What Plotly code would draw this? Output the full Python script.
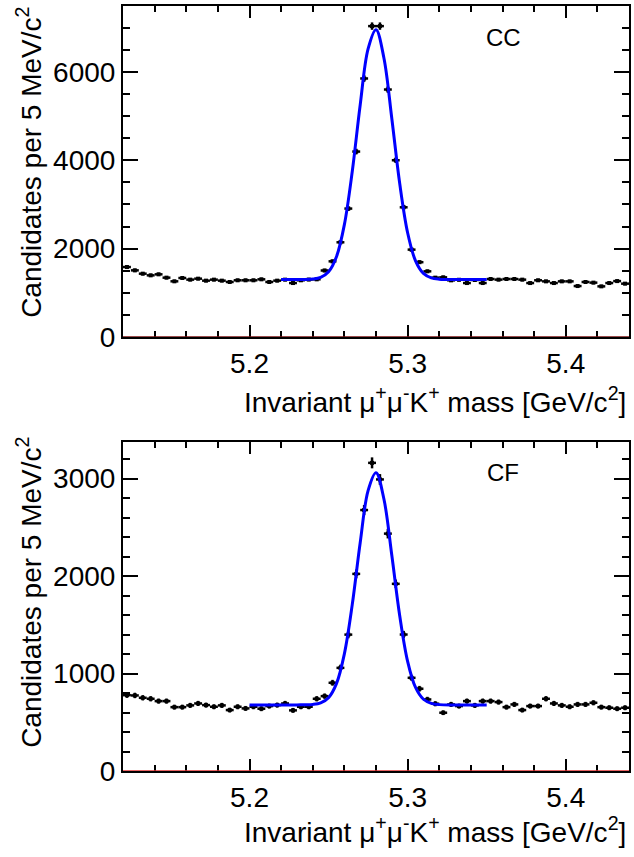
import numpy as np
import plotly.graph_objects as go

# ---------------- data ----------------
MASS = [5.1225, 5.1275, 5.1325, 5.1375, 5.1425, 5.1475, 5.1525, 5.1575,
        5.1625, 5.1675, 5.1725, 5.1775, 5.1825, 5.1875, 5.1925, 5.1975,
        5.2025, 5.2075, 5.2125, 5.2175, 5.2225, 5.2275, 5.2325, 5.2375,
        5.2425, 5.2475, 5.2525, 5.2575, 5.2625, 5.2675, 5.2725, 5.2775,
        5.2825, 5.2875, 5.2925, 5.2975, 5.3025, 5.3075, 5.3125, 5.3175,
        5.3225, 5.3275, 5.3325, 5.3375, 5.3425, 5.3475, 5.3525, 5.3575,
        5.3625, 5.3675, 5.3725, 5.3775, 5.3825, 5.3875, 5.3925, 5.3975,
        5.4025, 5.4075, 5.4125, 5.4175, 5.4225, 5.4275, 5.4325, 5.4375]
BIN_HALF_WIDTH = 0.0025

CC_COUNTS = [1583, 1508, 1433, 1395, 1418, 1343, 1260, 1335,
             1298, 1320, 1275, 1298, 1275, 1245, 1283, 1283,
             1283, 1305, 1245, 1275, 1298, 1221, 1283, 1300,
             1305, 1505, 1712, 2143, 2906, 4196, 5850, 7035,
             7035, 5600, 4000, 2935, 1977, 1693, 1486, 1343,
             1350, 1282, 1295, 1221, 1290, 1221, 1312, 1298,
             1312, 1312, 1298, 1221, 1283, 1259, 1221, 1259,
             1259, 1153, 1245, 1230, 1146, 1221, 1265, 1207]

CF_COUNTS = [778, 775, 751, 741, 717, 717, 655, 655,
             673, 693, 676, 659, 673, 625, 659, 642,
             659, 639, 666, 676, 693, 622, 659, 659,
             741, 768, 905, 1058, 1399, 2022, 2677, 3161,
             2991, 2435, 1920, 1400, 956, 844, 734, 690,
             598, 683, 666, 717, 673, 717, 717, 707,
             655, 683, 625, 666, 666, 741, 693, 673,
             659, 683, 683, 700, 655, 649, 639, 649]

FIT_X_CC = [5.22, 5.23, 5.24, 5.245, 5.25, 5.255, 5.26, 5.265, 5.27, 5.275,
            5.28, 5.285, 5.29, 5.295, 5.30, 5.305, 5.31, 5.315, 5.32, 5.33,
            5.34, 5.35]
FIT_Y_CC = [1300, 1300, 1311, 1349, 1476, 1817, 2543, 3749, 5251, 6519,
            6954, 6315, 4945, 3472, 2360, 1724, 1439, 1337, 1308, 1300,
            1300, 1300]

FIT_X_CF = [5.20, 5.22, 5.23, 5.24, 5.245, 5.25, 5.255, 5.26, 5.265, 5.27,
            5.275, 5.28, 5.285, 5.29, 5.295, 5.30, 5.305, 5.31, 5.315, 5.32,
            5.33, 5.34, 5.35]
FIT_Y_CF = [678, 678, 678, 683, 699, 752, 896, 1202, 1709, 2342,
            2876, 3060, 2790, 2213, 1593, 1125, 857, 736, 694, 681,
            678, 678, 678]

X_TICKS = [5.2, 5.3, 5.4]
X_TICK_TEXT = ["5.2", "5.3", "5.4"]
CC_Y_TICKS = [0, 2000, 4000, 6000]
CF_Y_TICKS = [0, 1000, 2000, 3000]
PANEL_LABELS = ["CC", "CF"]

X_TITLE = "Invariant \u03bc<sup>+</sup>\u03bc<sup>-</sup>K<sup>+</sup> mass [GeV/c<sup>2</sup>]"
Y_TITLE = "Candidates per 5 MeV/c<sup>2</sup>"

# ---------------- figure ----------------
FONT = "Liberation Sans, Arial, Helvetica, sans-serif"
W, H = 634, 857
ML, MR, MT, MB = 123, 3, 6, 86
PH = H - MT - MB

def py(px):  # pixel row -> paper y
    return (H - MB - px) / PH

def px_(x):  # pixel column -> paper x
    return (x - ML) / (W - ML - MR)

fig = go.Figure()

for counts, fx, fy, xa, ya in [(CC_COUNTS, FIT_X_CC, FIT_Y_CC, "x", "y"),
                               (CF_COUNTS, FIT_X_CF, FIT_Y_CF, "x2", "y2")]:
    fig.add_trace(go.Scatter(
        x=MASS, y=counts, mode="markers", xaxis=xa, yaxis=ya,
        marker=dict(symbol="square", size=4, color="black"),
        error_x=dict(type="constant", value=BIN_HALF_WIDTH, width=0,
                     thickness=2.5, color="black"),
        error_y=dict(type="data", array=list(np.sqrt(counts)), width=0,
                     thickness=2.5, color="black"),
        showlegend=False, hoverinfo="skip"))
    fig.add_trace(go.Scatter(
        x=fx, y=fy, mode="lines", xaxis=xa, yaxis=ya,
        line=dict(color="#0000ff", width=3, shape="spline"),
        showlegend=False, hoverinfo="skip"))

axis_common = dict(showgrid=False, zeroline=False, showline=True,
                   linecolor="black", linewidth=2, mirror="ticks",
                   ticks="inside", tickcolor="black", tickwidth=1.5,
                   tickfont=dict(family=FONT, size=28, color="black"))

xcommon = dict(axis_common, range=[5.12, 5.44], tickvals=X_TICKS,
               ticktext=X_TICK_TEXT, ticklen=12,
               minor=dict(dtick=0.02, tick0=5.2, ticklen=6, ticks="inside",
                          tickcolor="black", tickwidth=1.5))

top_dom = [py(337), py(6)]
bot_dom = [py(771), py(442)]

fig.update_layout(
    width=W, height=H,
    margin=dict(l=ML, r=MR, t=MT, b=MB, pad=0),
    paper_bgcolor="white", plot_bgcolor="white",
    font=dict(family=FONT, color="black"),
    xaxis=dict(xcommon, anchor="y", domain=[0, 1]),
    yaxis=dict(axis_common, anchor="x", domain=top_dom, range=[0, 7490],
               tickvals=CC_Y_TICKS, ticklen=15,
               minor=dict(dtick=500, ticklen=7, ticks="inside",
                          tickcolor="black", tickwidth=1.5)),
    xaxis2=dict(xcommon, anchor="y2", domain=[0, 1]),
    yaxis2=dict(axis_common, anchor="x2", domain=bot_dom, range=[0, 3375],
                tickvals=CF_Y_TICKS, ticklen=15,
                minor=dict(dtick=200, ticklen=7, ticks="inside",
                           tickcolor="black", tickwidth=1.5)),
)

# red baseline at zero
for xa, ya, col in [("x", "y", "#7a1010"), ("x2", "y2", "#e03030")]:
    fig.add_shape(type="line", xref=xa, yref=ya, x0=5.12, x1=5.44, y0=0, y1=0,
                  line=dict(color=col, width=1.5), layer="above")

ann = []
# panel labels
ann.append(dict(text=PANEL_LABELS[0], xref="paper", yref="paper",
                x=px_(505), y=py(37.5), xanchor="center", yanchor="middle",
                showarrow=False, font=dict(family=FONT, size=24)))
ann.append(dict(text=PANEL_LABELS[1], xref="paper", yref="paper",
                x=px_(504), y=py(472.5), xanchor="center", yanchor="middle",
                showarrow=False, font=dict(family=FONT, size=24)))
# x titles
for yc in [400, 830]:
    ann.append(dict(text=X_TITLE, xref="paper", yref="paper",
                    x=px_(630), y=py(yc), xanchor="right", yanchor="middle",
                    showarrow=False, font=dict(family=FONT, size=28)))
# y titles
for ytop in [5, 435]:
    ann.append(dict(text=Y_TITLE, xref="paper", yref="paper", textangle=-90,
                    x=px_(28), y=py(ytop), xanchor="center", yanchor="top",
                    showarrow=False, font=dict(family=FONT, size=28)))
fig.update_layout(annotations=ann)

fig.write_html("out.html")
